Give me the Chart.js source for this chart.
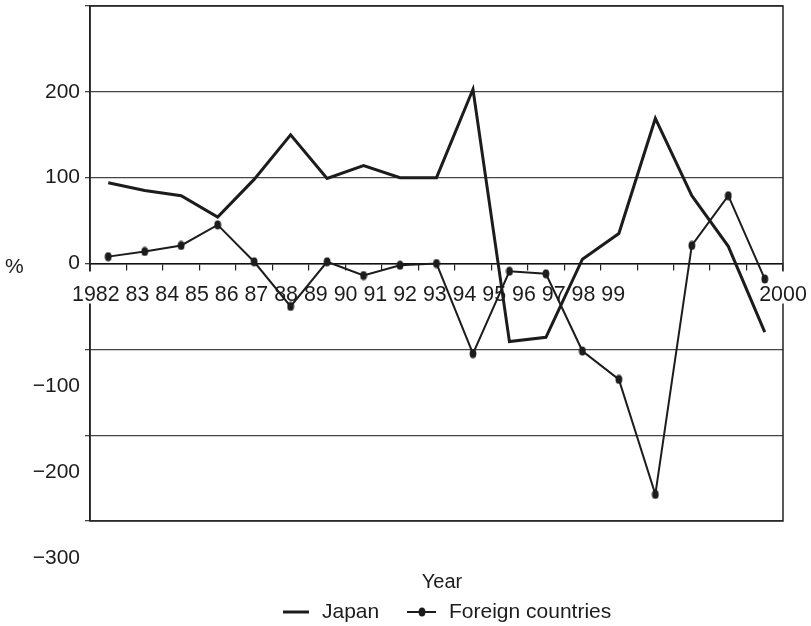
<!DOCTYPE html>
<html>
<head>
<meta charset="utf-8">
<script src="https://cdn.jsdelivr.net/npm/chart.js@4.4.1/dist/chart.umd.min.js"></script>
<style>
  html, body { margin: 0; padding: 0; background: #fff; }
</style>
</head>
<body>
<canvas id="chart" width="811" height="626"></canvas>
<script>
const years = [1982, 1983, 1984, 1985, 1986, 1987, 1988, 1989, 1990, 1991,
               1992, 1993, 1994, 1995, 1996, 1997, 1998, 1999, 2000];
const japan = [94, 85, 79, 54, 98, 150, 99, 114, 100, 100,
               203, -91, -86, 5, 35, 169, 79, 20, -80];
const foreign = [8, 14, 21, 45, 2, -50, 2, -14, -2, 0,
                 -105, -9, -12, -102, -135, -269, 21, 79, -18];
// labels as printed under the axis (set as running text, not one per point)
const yearLabels = ['1982', '83', '84', '85', '86', '87', '88', '89', '90', '91',
                    '92', '93', '94', '95', '96', '97', '98', '99'];
const lastYearLabel = '2000';
const yLabels = [200, 100, 0, -100, -200, -300];

const ink = '#1c1c1c';
const font = '"Liberation Sans", Arial, sans-serif';

// small vertical oval used as the marker of the foreign series
function makeDot() {
  const c = document.createElement('canvas');
  c.width = 8; c.height = 10;
  const g = c.getContext('2d');
  g.fillStyle = ink;
  g.beginPath();
  g.ellipse(4, 5, 3.4, 4.6, 0, 0, Math.PI * 2);
  g.fill();
  return c;
}
const dot = makeDot();

const overlay = {
  id: 'overlay',
  beforeDatasetsDraw(chart) {
    const { ctx, chartArea: a, scales: { y } } = chart;
    const zero = y.getPixelForValue(0);
    ctx.save();
    ctx.strokeStyle = '#222';
    ctx.lineWidth = 1.5;
    ctx.strokeRect(a.left, a.top, a.right - a.left, a.bottom - a.top);

    // year labels with white boxes that hide the axis lines behind them
    ctx.font = '21.4px ' + font;
    ctx.textBaseline = 'alphabetic';
    ctx.textAlign = 'left';
    const space = ctx.measureText(' ').width;
    let cx = a.left - 18;
    yearLabels.forEach(t => {
      const w = ctx.measureText(t).width;
      ctx.fillStyle = '#fff';
      ctx.fillRect(cx - 1, zero + 8, w + 2, 32);
      ctx.fillStyle = ink;
      ctx.fillText(t, cx, zero + 37);
      cx += w + space;
    });
    const w2 = ctx.measureText(lastYearLabel).width;
    ctx.fillStyle = '#fff';
    ctx.fillRect(a.right - w2 / 2 - 1, zero + 8, w2 + 2, 32);
    ctx.fillStyle = ink;
    ctx.fillText(lastYearLabel, a.right - w2 / 2, zero + 37);
    ctx.restore();
  },
  afterDraw(chart) {
    const { ctx, chartArea: a, scales: { y } } = chart;
    const zero = y.getPixelForValue(0);
    ctx.save();
    ctx.fillStyle = ink;

    // y labels: the negative ones sit lower than their grid lines, as printed
    ctx.font = '21px ' + font;
    ctx.textAlign = 'right';
    ctx.textBaseline = 'middle';
    yLabels.forEach(v => {
      const py = y.getPixelForValue(v) + (v < 0 ? 37 : 0);
      ctx.fillText(v < 0 ? '\u2212' + Math.abs(v) : String(v), a.left - 10, py);
    });
    ctx.textAlign = 'left';
    ctx.fillText('%', 5, zero + 4);

    // axis title
    ctx.font = '20px ' + font;
    ctx.textAlign = 'center';
    ctx.fillText('Year', 442, 582);

    // legend
    const ly = 612;
    ctx.strokeStyle = ink;
    ctx.lineWidth = 3;
    ctx.beginPath(); ctx.moveTo(283, ly); ctx.lineTo(309, ly); ctx.stroke();
    ctx.lineWidth = 2;
    ctx.beginPath(); ctx.moveTo(407, ly); ctx.lineTo(436, ly); ctx.stroke();
    ctx.drawImage(dot, 422 - dot.width / 2, ly - dot.height / 2);
    ctx.font = '21px ' + font;
    ctx.textAlign = 'left';
    ctx.fillText('Japan', 322, ly);
    ctx.fillText('Foreign countries', 449, ly);
    ctx.restore();
  }
};

new Chart(document.getElementById('chart'), {
  type: 'line',
  data: {
    labels: years,
    datasets: [
      {
        label: 'Japan',
        data: japan,
        borderColor: ink,
        borderWidth: 3,
        pointRadius: 0,
        tension: 0
      },
      {
        label: 'Foreign countries',
        data: foreign,
        borderColor: ink,
        borderWidth: 2,
        pointStyle: dot,
        pointRadius: 4,
        tension: 0
      }
    ]
  },
  options: {
    responsive: false,
    animation: false,
    devicePixelRatio: 1,
    layout: { padding: { left: 90, top: 6, right: 28, bottom: 105 } },
    plugins: { legend: { display: false }, tooltip: { enabled: false } },
    scales: {
      x: {
        type: 'category',
        position: { y: 0 },
        offset: true,
        grid: { offset: true, drawOnChartArea: false, tickLength: 6, color: '#222', lineWidth: 1.2 },
        border: { display: true, color: '#111', width: 1.5 },
        ticks: { display: false },
        afterFit: s => { s.height = 0; }
      },
      y: {
        min: -300,
        max: 300,
        ticks: { display: false, stepSize: 100 },
        grid: { color: '#444', lineWidth: 1.3, tickLength: 5 },
        border: { color: '#222', width: 1.5 },
        afterFit: s => { s.width = 0; }
      }
    }
  },
  plugins: [overlay]
});
</script>
</body>
</html>
